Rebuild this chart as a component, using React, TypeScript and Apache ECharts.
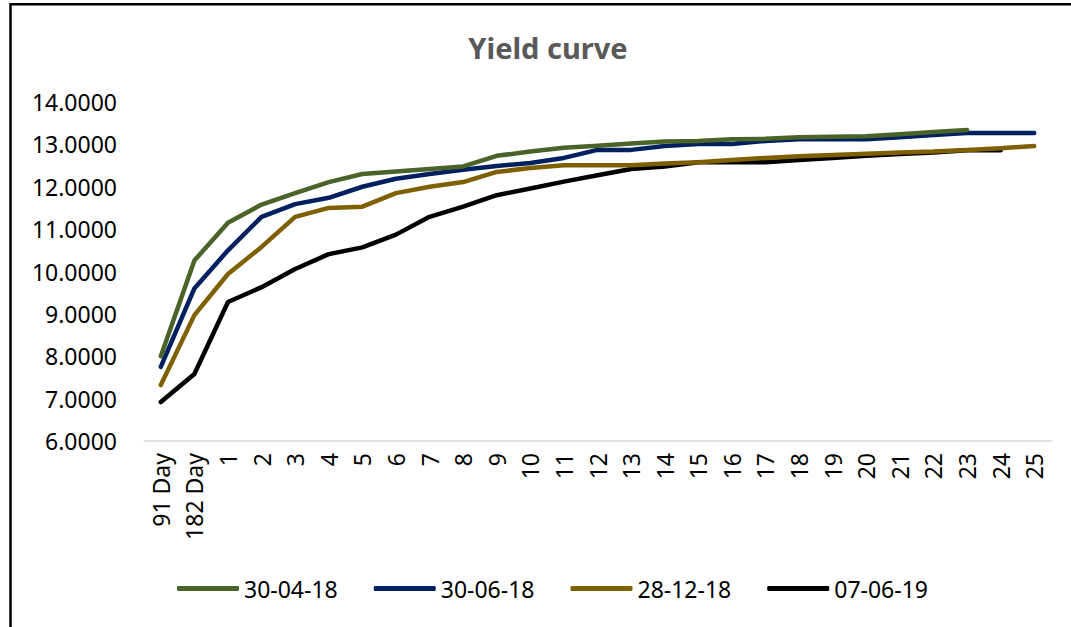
import React, { useEffect, useRef } from "react";
import * as echarts from "echarts";

const categories = [
  "91 Day", "182 Day", "1", "2", "3", "4", "5", "6", "7", "8", "9", "10", "11", "12",
  "13", "14", "15", "16", "17", "18", "19", "20", "21", "22", "23", "24", "25",
];

const seriesNames = ["30-04-18", "30-06-18", "28-12-18", "07-06-19"];
const seriesColors = ["#4a6328", "#002060", "#7f6000", "#000000"];

const apr18 = [
  8.0, 10.26, 11.15, 11.58, 11.85, 12.11, 12.3, 12.36, 12.42, 12.48, 12.73, 12.83, 12.92,
  12.97, 13.02, 13.07, 13.08, 13.12, 13.13, 13.17, 13.18, 13.19, 13.24, 13.29, 13.34, null, null,
];
const jun18 = [
  7.75, 9.6, 10.5, 11.29, 11.59, 11.74, 12.0, 12.19, 12.3, 12.4, 12.49, 12.56, 12.68,
  12.87, 12.87, 12.96, 13.01, 13.01, 13.08, 13.12, 13.12, 13.12, 13.17, 13.22, 13.27, 13.27, 13.27,
];
const dec18 = [
  7.32, 8.97, 9.94, 10.58, 11.29, 11.5, 11.53, 11.85, 12.0, 12.11, 12.35, 12.44, 12.51,
  12.51, 12.51, 12.55, 12.58, 12.63, 12.68, 12.72, 12.75, 12.78, 12.81, 12.83, 12.87, 12.91, 12.96,
];
const jun19 = [
  6.92, 7.58, 9.28, 9.63, 10.06, 10.41, 10.57, 10.87, 11.29, 11.53, 11.8, 11.96, 12.12,
  12.27, 12.42, 12.48, 12.58, 12.58, 12.58, 12.63, 12.68, 12.73, 12.77, 12.81, 12.86, 12.86, null,
];

const seriesData = [apr18, jun18, dec18, jun19];

const FONT = "'Noto Sans', 'Open Sans', sans-serif";

export default function App() {
  const ref = useRef<HTMLDivElement>(null);

  useEffect(() => {
    if (!ref.current) return;
    const chart = echarts.init(ref.current, undefined, { renderer: "svg" });
    chart.setOption({
      animation: false,
      backgroundColor: "#ffffff",
      graphic: [
        {
          type: "rect",
          shape: { x: 10.5, y: 4.2, width: 1300, height: 900 },
          style: { fill: "none", stroke: "#000000", lineWidth: 2.5 },
          silent: true,
        },
        {
          type: "text",
          x: 548,
          y: 47,
          style: {
            text: "Yield curve",
            fill: "#595959",
            font: `bold 29px ${FONT}`,
            textAlign: "center",
            textVerticalAlign: "middle",
          },
        },
      ],
      grid: { left: 144, right: 20, top: 102, bottom: 186, containLabel: false },
      legend: {
        data: seriesNames,
        left: 172,
        top: 572,
        icon: "roundRect",
        itemWidth: 62,
        itemHeight: 5,
        itemGap: 36,
        textStyle: { fontFamily: FONT, fontSize: 23, color: "#000000", padding: [0, 0, 0, 0] },
      },
      xAxis: {
        type: "category",
        data: categories,
        boundaryGap: true,
        axisLine: { show: true, lineStyle: { color: "#d9d9d9", width: 1.5 } },
        axisTick: { show: false },
        splitLine: { show: false },
        axisLabel: {
          rotate: 90,
          interval: 0,
          margin: 12,
          fontFamily: FONT,
          fontSize: 23,
          color: "#000000",
        },
      },
      yAxis: {
        type: "value",
        min: 6,
        max: 14,
        interval: 1,
        axisLine: { show: false },
        axisTick: { show: false },
        splitLine: { show: false },
        axisLabel: {
          margin: 27,
          fontFamily: FONT,
          fontSize: 23,
          color: "#000000",
          formatter: (v: number) => v.toFixed(4),
        },
      },
      series: seriesNames.map((name, i) => ({
        name,
        type: "line",
        data: seriesData[i],
        symbol: "none",
        smooth: false,
        connectNulls: false,
        color: seriesColors[i],
        lineStyle: { width: 4.5, color: seriesColors[i], cap: "round", join: "round" },
        itemStyle: { color: seriesColors[i] },
        z: 10 - i,
      })),
    });
    return () => chart.dispose();
  }, []);

  return (
    <div
      ref={ref}
      style={{ position: "absolute", left: 0, top: 0, width: 1071, height: 627 }}
    />
  );
}
